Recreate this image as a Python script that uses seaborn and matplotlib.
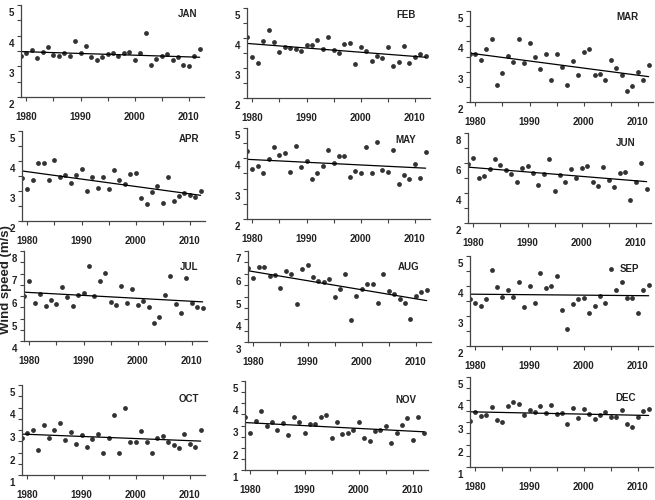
import numpy as np
import matplotlib as mpl
mpl.use('Agg')
import matplotlib.pyplot as plt
import matplotlib.transforms as mtransforms
from matplotlib.ticker import MultipleLocator
import seaborn as sns

years = list(range(1979, 2013))

jan = [3.33, 3.44, 3.53, 3.28, 3.47, 3.62, 3.38, 3.35, 3.44, 3.35, 3.81, 3.42,
       3.66, 3.29, 3.22, 3.31, 3.41, 3.45, 3.33, 3.44, 3.48, 3.22, 3.43, 4.10,
       3.03, 3.25, 3.35, 3.40, 3.20, 3.30, 3.03, 3.00, 3.33, 3.57]
feb = [4.03, 3.36, 3.18, 3.90, 4.26, 3.87, 3.52, 3.71, 3.66, 3.63, 3.57, 3.78,
       3.76, 3.94, 3.63, 4.02, 3.59, 3.51, 3.79, 3.82, 3.13, 3.71, 3.56, 3.22,
       3.41, 3.34, 3.71, 3.07, 3.20, 3.74, 3.18, 3.36, 3.46, 3.40]
mar = [3.57, 3.57, 3.40, 3.74, 4.09, 2.56, 2.94, 3.51, 3.33, 4.09, 3.28, 3.95,
       3.47, 3.08, 3.57, 2.72, 3.59, 3.17, 2.56, 3.36, 2.88, 3.66, 3.75, 2.88,
       2.92, 2.74, 3.37, 3.11, 2.88, 2.37, 2.52, 2.99, 2.74, 3.22]
apr = [3.43, 3.06, 3.37, 3.93, 3.92, 3.37, 4.04, 3.47, 3.52, 3.28, 3.52, 3.73,
       3.00, 3.48, 3.10, 3.47, 3.06, 3.70, 3.37, 3.22, 3.58, 3.60, 2.76, 2.57,
       2.97, 3.17, 2.60, 3.48, 2.68, 2.83, 2.93, 2.88, 2.81, 3.00]
may = [4.25, 3.66, 3.74, 3.52, 3.99, 4.37, 4.12, 4.16, 3.55, 4.42, 3.70, 3.92,
       3.31, 3.51, 3.74, 4.29, 3.85, 4.08, 4.08, 3.40, 3.57, 3.52, 4.37, 3.52,
       4.53, 3.62, 3.55, 4.29, 3.15, 3.45, 3.33, 3.81, 3.35, 4.21]
jun = [5.93, 6.33, 5.00, 5.16, 5.60, 6.29, 5.89, 5.56, 5.24, 4.76, 5.67, 5.82,
       5.33, 4.51, 5.24, 6.29, 4.13, 5.20, 4.76, 5.60, 4.98, 5.64, 5.82, 4.71,
       4.44, 5.71, 4.89, 4.38, 5.31, 5.38, 3.56, 4.73, 6.02, 4.29]
jul = [6.00, 6.68, 5.70, 6.09, 5.56, 5.81, 5.63, 6.40, 5.97, 5.56, 6.04, 6.13,
       7.35, 6.00, 6.67, 7.04, 5.72, 5.60, 6.46, 5.69, 6.31, 5.61, 5.78, 5.53,
       4.81, 5.07, 6.04, 6.89, 5.63, 5.23, 6.81, 5.70, 5.50, 5.45]
aug = [6.26, 5.81, 6.31, 6.31, 5.90, 5.96, 5.38, 6.10, 5.99, 4.69, 6.22, 6.40,
       5.84, 5.68, 5.65, 5.75, 4.97, 5.35, 5.99, 3.97, 5.03, 5.31, 5.53, 5.56,
       4.72, 5.99, 5.26, 5.13, 4.90, 4.72, 4.01, 5.03, 5.18, 5.28]
sep = [3.57, 3.45, 3.32, 3.58, 4.52, 3.98, 3.62, 3.87, 3.63, 4.14, 3.30, 3.99,
       3.45, 4.45, 3.94, 4.00, 4.33, 3.21, 2.58, 3.41, 3.58, 3.61, 3.10, 3.32,
       3.67, 3.43, 4.57, 3.88, 4.13, 3.61, 3.61, 3.10, 3.87, 4.04]
oct_ = [2.66, 2.85, 3.00, 2.13, 3.21, 2.63, 2.99, 3.30, 2.57, 2.91, 2.39, 2.76,
        2.26, 2.59, 2.84, 1.98, 2.66, 3.65, 1.99, 3.98, 2.45, 2.47, 2.94, 2.47,
        1.99, 2.64, 2.75, 2.47, 2.33, 2.19, 2.81, 2.39, 2.26, 3.01]
nov = [3.37, 2.66, 3.20, 3.65, 2.98, 3.14, 2.78, 3.13, 2.57, 3.38, 3.17, 2.65,
       3.07, 3.07, 3.40, 3.46, 2.42, 3.14, 2.60, 2.66, 2.80, 3.17, 2.44, 2.32,
       2.75, 2.78, 2.99, 2.23, 2.68, 3.01, 3.34, 2.36, 3.40, 2.68]
dec = [3.05, 3.44, 3.27, 3.33, 3.66, 3.07, 3.02, 3.70, 3.88, 3.79, 3.29, 3.52,
       3.45, 3.73, 3.38, 3.77, 3.36, 3.41, 2.92, 3.63, 3.18, 3.57, 3.36, 3.14,
       3.33, 3.44, 3.24, 3.21, 3.52, 2.93, 2.79, 3.21, 3.49, 3.57]

months = ['JAN', 'FEB', 'MAR', 'APR', 'MAY', 'JUN',
          'JUL', 'AUG', 'SEP', 'OCT', 'NOV', 'DEC']
series = [jan, feb, mar, apr, may, jun, jul, aug, sep, oct_, nov, dec]
ylims = [(2, 5), (2, 5), (2, 5), (2, 5), (2, 5), (2, 8),
         (4, 8), (3, 7), (2, 5), (1, 5), (1, 5), (1, 5)]

# panel boxes in pixels: left spine x, top, bottom
boxes = [(21, 5, 97), (247, 8, 98), (470, 11, 102),
         (22, 131, 221), (247, 128, 219), (468, 133, 223),
         (24, 251, 341), (248, 251, 342), (470, 256, 346),
         (22, 385, 475), (245, 381, 470), (470, 377, 467)]
label_pos = [(0.91, 0.90), (0.87, 0.92), (0.86, 0.93),
             (0.91, 0.91), (0.87, 0.87), (0.86, 0.89),
             (0.90, 0.82), (0.88, 0.82), (0.87, 0.86),
             (0.91, 0.84), (0.88, 0.79), (0.85, 0.77)]

sns.set_style('ticks')
plt.rcParams['font.family'] = ['Liberation Sans', 'DejaVu Sans']

W, H = 655, 500
fig = plt.figure(figsize=(W / 100, H / 100), dpi=100)
shift = mtransforms.ScaledTranslation(0, -0.07, fig.dpi_scale_trans)
axcol = '#444444'

for i, m in enumerate(months):
    x0, top, bot = boxes[i]
    ax = fig.add_axes([x0 / W, 1 - bot / H, 183 / W, (bot - top) / H])
    sns.regplot(x=years, y=series[i], ax=ax, ci=None, truncate=True,
                scatter_kws=dict(s=12, color='black', linewidths=0),
                line_kws=dict(color='black', lw=0.9))
    ax.set_xlim(1979, 2012.8)
    ax.set_ylim(*ylims[i])
    step = 2 if m == 'JUN' else 1
    ax.yaxis.set_major_locator(MultipleLocator(step))
    ax.yaxis.set_minor_locator(MultipleLocator(step / 2))
    ax.set_xticks([1980, 1990, 2000, 2010])
    ax.xaxis.set_minor_locator(MultipleLocator(5))
    sns.despine(ax=ax)
    for sp in ('left', 'bottom'):
        ax.spines[sp].set_color(axcol)
        ax.spines[sp].set_linewidth(0.9)
    ax.tick_params(axis='both', which='both', direction='out', color=axcol,
                   width=0.8, length=3, labelsize=7)
    ax.tick_params(axis='x', which='major', pad=8)
    ax.tick_params(axis='y', which='major', pad=2)
    for lab in ax.get_xticklabels() + ax.get_yticklabels():
        lab.set_fontweight('bold')
        lab.set_color('#222222')
    for lab in ax.get_yticklabels():
        lab.set_transform(lab.get_transform() + shift)
    ax.set_xlabel('')
    ax.set_ylabel('')
    lx, ly = label_pos[i]
    ax.text(lx, ly, m, transform=ax.transAxes, ha='center', va='center',
            fontsize=7, fontweight='bold', color='#222222')

fig.text(0.009, 0.44, 'Wind speed (m/s)', rotation=90, ha='center',
         va='center', fontsize=9.5, fontweight='bold', color='#222222')

fig.savefig('out.png', dpi=100)
